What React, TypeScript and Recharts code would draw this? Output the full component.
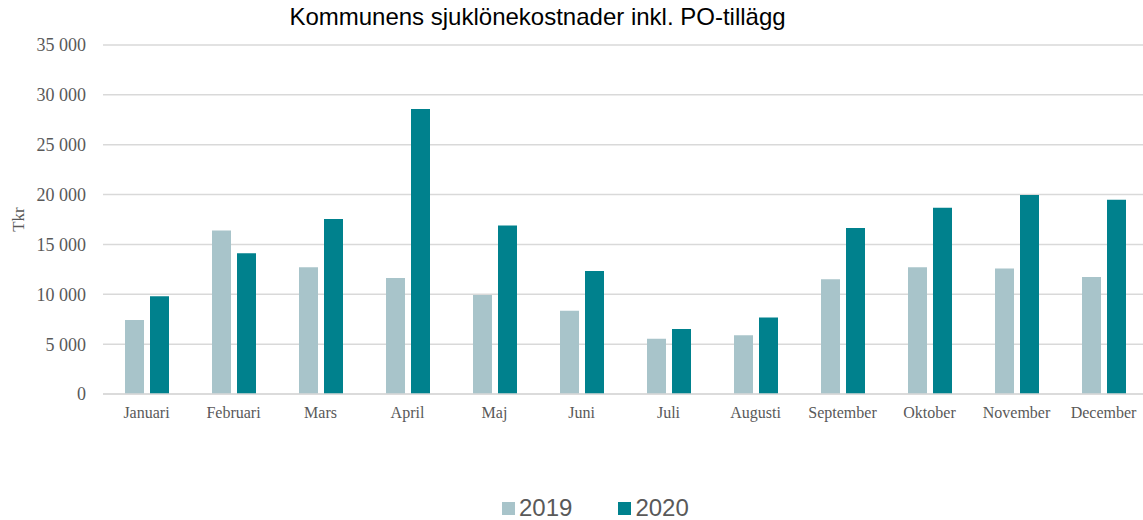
import { BarChart, Bar, XAxis, YAxis, CartesianGrid } from "recharts";

const months = [
  "Januari",
  "Februari",
  "Mars",
  "April",
  "Maj",
  "Juni",
  "Juli",
  "Augusti",
  "September",
  "Oktober",
  "November",
  "December",
];
const cost2019 = [7420, 16400, 12720, 11640, 9930, 8360, 5550, 5880, 11510, 12720, 12580, 11740];
const cost2020 = [9800, 14120, 17540, 28570, 16900, 12340, 6520, 7660, 16640, 18680, 19950, 19480];
const yTicks = [0, 5000, 10000, 15000, 20000, 25000, 30000, 35000];
const seriesNames = ["2019", "2020"];
const COLORS = ["#A8C4CA", "#00818D"];

const data = months.map((m, i) => ({
  month: m,
  "2019": cost2019[i],
  "2020": cost2020[i],
}));

const fmt = (v: number) => v.toLocaleString("en-US").replace(/,/g, " ");

export default function App() {
  return (
    <div
      style={{
        position: "absolute",
        left: 0,
        top: 0,
        width: 1143,
        height: 520,
        overflow: "hidden",
        background: "#fff",
      }}
    >
      <div
        style={{
          position: "absolute",
          left: 0,
          width: 1075,
          top: 3,
          textAlign: "center",
          fontFamily: "'Liberation Sans', Arial, sans-serif",
          fontSize: 24,
          color: "#000",
        }}
      >
        Kommunens sjuklönekostnader inkl. PO-tillägg
      </div>
      {/* plot runs a few px past the right edge, like the reference */}
      <BarChart
        width={1148}
        height={520}
        data={data}
        margin={{ top: 45, right: 1, bottom: 96, left: 0 }}
        barSize={19}
        barGap={6}
      >
        <CartesianGrid vertical={false} stroke="#D9D9D9" strokeWidth={1.5} />
        <XAxis
          dataKey="month"
          height={30}
          axisLine={{ stroke: "#D9D9D9", strokeWidth: 1.5 }}
          tickLine={false}
          tickSize={0}
          tickMargin={13}
          interval={0}
          tick={{ fill: "#595959", fontSize: 16, fontFamily: "'Liberation Serif', 'Times New Roman', serif" }}
        />
        <YAxis
          width={103}
          domain={[0, 35000]}
          ticks={yTicks}
          tickFormatter={fmt}
          axisLine={false}
          tickLine={false}
          tickSize={0}
          tickMargin={17}
          tick={{ fill: "#595959", fontSize: 18, fontFamily: "'Liberation Serif', 'Times New Roman', serif" }}
          label={{
            value: "Tkr",
            angle: -90,
            position: "insideLeft",
            offset: 18,
            style: {
              textAnchor: "middle",
              fill: "#595959",
              fontSize: 17,
              fontFamily: "'Liberation Serif', 'Times New Roman', serif",
            },
          }}
        />
        {seriesNames.map((s, i) => (
          <Bar key={s} dataKey={s} fill={COLORS[i]} isAnimationActive={false} />
        ))}
      </BarChart>
      <div
        style={{
          position: "absolute",
          left: 502,
          top: 494,
          display: "flex",
          alignItems: "center",
          fontFamily: "'Liberation Sans', Arial, sans-serif",
          fontSize: 24,
          color: "#595959",
        }}
      >
        {seriesNames.map((s, i) => (
          <div key={s} style={{ display: "flex", alignItems: "center", marginRight: i === 0 ? 46 : 0 }}>
            <span style={{ display: "inline-block", width: 13, height: 13, background: COLORS[i], marginRight: 4 }} />
            <span>{s}</span>
          </div>
        ))}
      </div>
    </div>
  );
}
